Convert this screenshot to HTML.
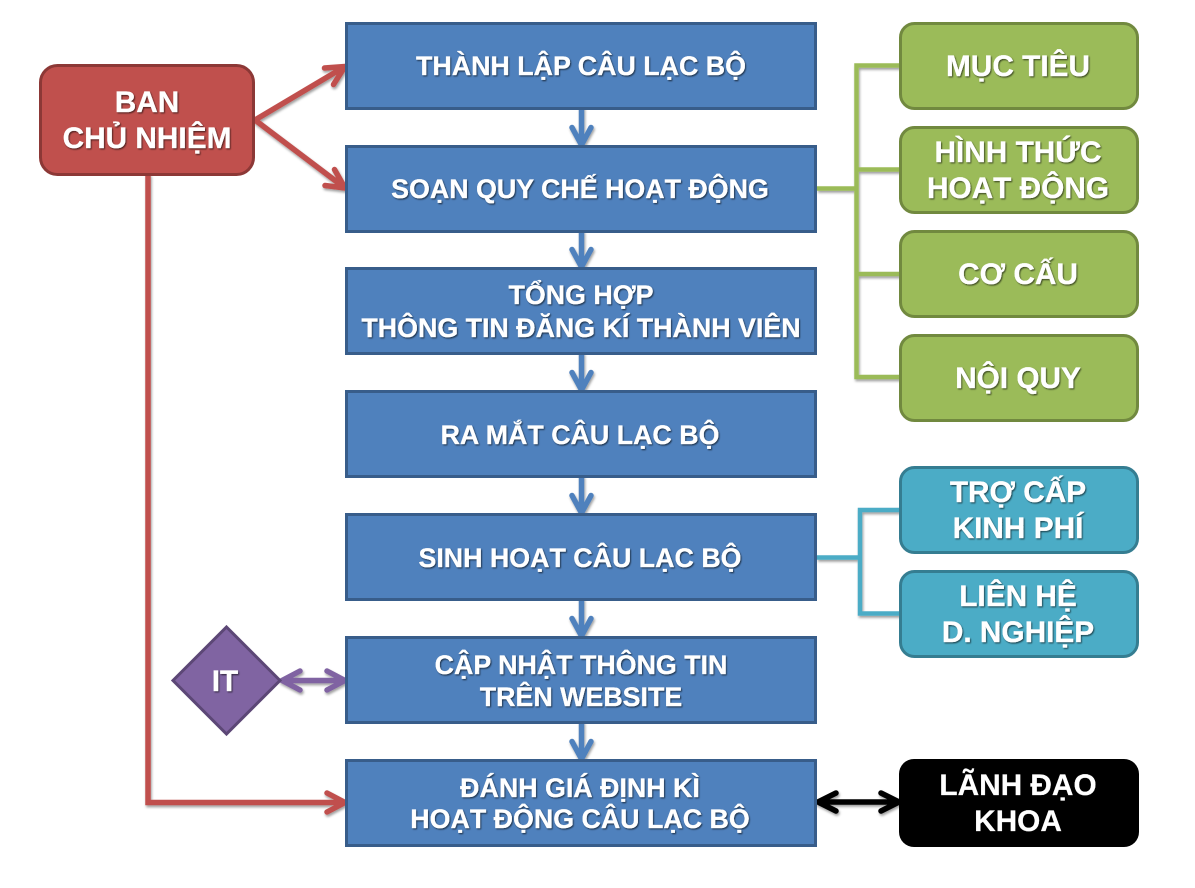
<!DOCTYPE html>
<html><head><meta charset="utf-8"><style>
html,body{margin:0;padding:0;background:#fff}
svg{display:block}
text{font-family:"Liberation Sans","Noto Sans CJK JP",sans-serif;font-weight:bold;fill:#fff;text-anchor:middle;stroke:#fff;stroke-width:.25}
.b{font-size:26.8px}.g{font-size:29.8px}
.c{fill:none;stroke-linejoin:miter;stroke-width:4.5}
.a{fill:none;stroke-width:5.5;stroke-linecap:round;stroke-linejoin:round}
</style></head><body>
<svg width="1195" height="888" viewBox="0 0 1195 888" xmlns="http://www.w3.org/2000/svg">
<defs>
<filter id="s" x="-20%" y="-20%" width="140%" height="140%"><feDropShadow dx="1" dy="2" stdDeviation="1.4" flood-color="#000" flood-opacity=".38"/></filter>
<filter id="t" x="-10%" y="-20%" width="120%" height="140%"><feDropShadow dx="1" dy="1.2" stdDeviation=".7" flood-color="#000" flood-opacity=".6"/></filter>
</defs>

<g filter="url(#s)">
<g class="a" stroke="#4f81bd">
<path d="M581.500 108V145M572 127.500L581.500 145L591 127.500"/>
<path d="M581.500 232V267M572 249.500L581.500 267L591 249.500"/>
<path d="M581.500 354V390M572 372.500L581.500 390L591 372.500"/>
<path d="M581.500 477V513M572 495.500L581.500 513L591 495.500"/>
<path d="M581.500 600V636M572 618.500L581.500 636L591 618.500"/>
<path d="M581.500 723V759M572 741.500L581.500 759L591 741.500"/>
</g>
<g class="a" stroke="#c0504d">
<path d="M255 120L345 66.500M324.500 68L345 66.500L333.500 84.500"/>
<path d="M255 120L345 188M334.500 169.500L345 188L325 185.500"/>
<path d="M148 176V802.500H345M327 793L345 802.500L327 812" stroke-linejoin="miter"/>
</g>
<g class="a" stroke="#8064a2">
<path d="M282 680.500H345M300 671L282 680.500L300 690M327 671L345 680.500L327 690"/>
</g>
<g class="a" stroke="#000">
<path d="M818 802H899M836 793L818 802L836 811M881 793L899 802L881 811"/>
</g>
<g class="c" stroke="#9bbb59">
<path d="M817 188.500H856.500M900 65.500H856.500V377H900M856.500 169.500H900M856.500 274H900"/>
</g>
<g class="c" stroke="#4bacc6">
<path d="M817 557.500H860M900 510H860V613.500H900"/>
</g>
</g>

<g fill="#4f81bd" stroke="#385d8a" stroke-width="3">
<rect x="346.500" y="23.500" width="469" height="85"/>
<rect x="346.500" y="146.500" width="469" height="85"/>
<rect x="346.500" y="268.500" width="469" height="85"/>
<rect x="346.500" y="391.500" width="469" height="85"/>
<rect x="346.500" y="514.500" width="469" height="85"/>
<rect x="346.500" y="637.500" width="469" height="85"/>
<rect x="346.500" y="760.500" width="469" height="85"/>
</g>
<rect x="40.500" y="65.500" width="213" height="109" rx="17" fill="#c0504d" stroke="#8c3836" stroke-width="3"/>
<g fill="#9bbb59" stroke="#71893f" stroke-width="3">
<rect x="900.500" y="23.500" width="237" height="85" rx="14"/>
<rect x="900.500" y="127.500" width="237" height="85" rx="14"/>
<rect x="900.500" y="231.500" width="237" height="85" rx="14"/>
<rect x="900.500" y="335.500" width="237" height="85" rx="14"/>
</g>
<g fill="#4bacc6" stroke="#357d91" stroke-width="3">
<rect x="900.500" y="467.500" width="237" height="85" rx="14"/>
<rect x="900.500" y="571.500" width="237" height="85" rx="14"/>
</g>
<rect x="899" y="759" width="240" height="88" rx="15" fill="#000"/>
<path d="M226.500 627L280 680.500L226.500 734L173 680.500Z" fill="#8064a2" stroke="#5c4776" stroke-width="3"/>

<g filter="url(#t)">
<text class="b" x="581" y="75">THÀNH LẬP CÂU LẠC BỘ</text>
<text class="b" x="580" y="198">SOẠN QUY CHẾ HOẠT ĐỘNG</text>
<text class="b" x="581" y="304">TỔNG HỢP</text>
<text class="b" x="581" y="337">THÔNG TIN ĐĂNG KÍ THÀNH VIÊN</text>
<text class="b" x="580" y="444">RA MẮT CÂU LẠC BỘ</text>
<text class="b" x="580" y="567">SINH HOẠT CÂU LẠC BỘ</text>
<text class="b" x="581" y="674">CẬP NHẬT THÔNG TIN</text>
<text class="b" x="581" y="706">TRÊN WEBSITE</text>
<text class="b" x="580" y="797">ĐÁNH GIÁ ĐỊNH KÌ</text>
<text class="b" x="580" y="828">HOẠT ĐỘNG CÂU LẠC BỘ</text>
<text class="g" x="147" y="112">BAN</text>
<text class="g" x="147" y="148">CHỦ NHIỆM</text>
<text class="g" x="1018" y="76">MỤC TIÊU</text>
<text class="g" x="1018" y="162">HÌNH THỨC</text>
<text class="g" x="1018" y="198">HOẠT ĐỘNG</text>
<text class="g" x="1018" y="284">CƠ CẤU</text>
<text class="g" x="1018" y="388">NỘI QUY</text>
<text class="g" x="1018" y="502">TRỢ CẤP</text>
<text class="g" x="1018" y="538">KINH PHÍ</text>
<text class="g" x="1018" y="606">LIÊN HỆ</text>
<text class="g" x="1018" y="642">D. NGHIỆP</text>
<text class="g" x="225" y="691">IT</text>
</g>
<text class="g" x="1018" y="795">LÃNH ĐẠO</text>
<text class="g" x="1018" y="831">KHOA</text>
</svg>
</body></html>
